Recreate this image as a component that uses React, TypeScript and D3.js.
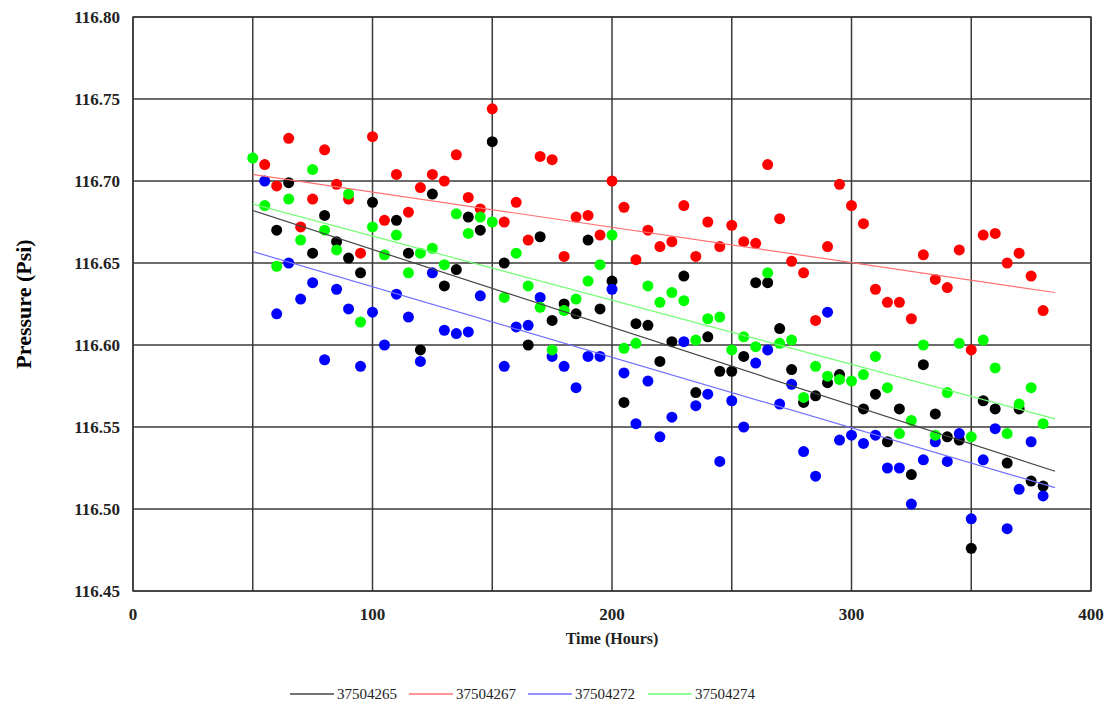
import * as d3 from 'd3';

// sample times (hours)
const hours = [50, 55, 60, 65, 70, 75, 80, 85, 90, 95, 100, 105, 110, 115, 120, 125, 130, 135, 140, 145,
  150, 155, 160, 165, 170, 175, 180, 185, 190, 195, 200, 205, 210, 215, 220, 225, 230, 235, 240, 245,
  250, 255, 260, 265, 270, 275, 280, 285, 290, 295, 300, 305, 310, 315, 320, 325, 330, 335, 340, 345,
  350, 355, 360, 365, 370, 375, 380];

const s37504265 = [null, null, 116.670, 116.699, null, 116.656, 116.679, 116.663, 116.653, 116.644,
  116.687, null, 116.676, 116.656, 116.597, 116.692, 116.636, 116.646, 116.678, 116.670,
  116.724, 116.650, null, 116.600, 116.666, 116.615, 116.625, 116.619, 116.664, 116.622,
  116.639, 116.565, 116.613, 116.612, 116.590, 116.602, 116.642, 116.571, 116.605, 116.584,
  116.584, 116.593, 116.638, 116.638, 116.610, 116.585, 116.565, 116.569, 116.577, 116.582,
  null, 116.561, 116.570, 116.541, 116.561, 116.521, 116.588, 116.558, 116.544, 116.542,
  116.476, 116.566, 116.561, 116.528, 116.561, 116.517, 116.514];

const s37504267 = [null, 116.710, 116.697, 116.726, 116.672, 116.689, 116.719, 116.698, 116.689, 116.656,
  116.727, 116.676, 116.704, 116.681, 116.696, 116.704, 116.700, 116.716, 116.690, 116.683,
  116.744, 116.675, 116.687, 116.664, 116.715, 116.713, 116.654, 116.678, 116.679, 116.667,
  116.700, 116.684, 116.652, 116.670, 116.660, 116.663, 116.685, 116.654, 116.675, 116.660,
  116.673, 116.663, 116.662, 116.710, 116.677, 116.651, 116.644, 116.615, 116.660, 116.698,
  116.685, 116.674, 116.634, 116.626, 116.626, 116.616, 116.655, 116.640, 116.635, 116.658,
  116.597, 116.667, 116.668, 116.650, 116.656, 116.642, 116.621];

const s37504272 = [null, 116.700, 116.619, 116.650, 116.628, 116.638, 116.591, 116.634, 116.622, 116.587,
  116.620, 116.600, 116.631, 116.617, 116.590, 116.644, 116.609, 116.607, 116.608, 116.630,
  null, 116.587, 116.611, 116.612, 116.629, 116.593, 116.587, 116.574, 116.593, 116.593,
  116.634, 116.583, 116.552, 116.578, 116.544, 116.556, 116.602, 116.563, 116.570, 116.529,
  116.566, 116.550, 116.589, 116.597, 116.564, 116.576, 116.535, 116.520, 116.620, 116.542,
  116.545, 116.540, 116.545, 116.525, 116.525, 116.503, 116.530, 116.541, 116.529, 116.546,
  116.494, 116.530, 116.549, 116.488, 116.512, 116.541, 116.508];

const s37504274 = [116.714, 116.685, 116.648, 116.689, 116.664, 116.707, 116.670, 116.658, 116.692, 116.614,
  116.672, 116.655, 116.667, 116.644, 116.656, 116.659, 116.649, 116.680, 116.668, 116.678,
  116.675, 116.629, 116.656, 116.636, 116.623, 116.597, 116.621, 116.628, 116.639, 116.649,
  116.667, 116.598, 116.601, 116.636, 116.626, 116.632, 116.627, 116.603, 116.616, 116.617,
  116.597, 116.605, 116.599, 116.644, 116.601, 116.603, 116.568, 116.587, 116.581, 116.579,
  116.578, 116.582, 116.593, 116.574, 116.546, 116.554, 116.600, 116.545, 116.571, 116.601,
  116.544, 116.603, 116.586, 116.546, 116.564, 116.574, 116.552];

// trend lines (linear fit): value at start hour and end hour
const trendHours = [50, 385];
const trendStart = [116.682, 116.704, 116.657, 116.686];
const trendEnd = [116.523, 116.632, 116.513, 116.555];

const seriesNames = ['37504265', '37504267', '37504272', '37504274'];
const seriesColors = ['#000000', '#ff0000', '#0000ff', '#00ff00'];
const trendColors = ['#444444', '#ff7070', '#7070ff', '#70ff70'];
const seriesValues = [s37504265, s37504267, s37504272, s37504274];

const xTicks = [0, 100, 200, 300, 400];
const yTicks = [116.45, 116.50, 116.55, 116.60, 116.65, 116.70, 116.75, 116.80];

const App = () => {
  const width = 1110, height = 707;
  const margin = { top: 17, right: 19, bottom: 116, left: 133 };
  const x = d3.scaleLinear().domain([0, 400]).range([margin.left, width - margin.right]);
  const y = d3.scaleLinear().domain([116.45, 116.80]).range([height - margin.bottom, margin.top]);
  const font = "'Liberation Serif', 'DejaVu Serif', serif";
  const xGrid = d3.range(0, 401, 50);

  const legendX = [290, 409, 528, 648];

  return (
    <svg width={width} height={height} style={{ position: 'absolute', left: 0, top: 0, background: '#fff', fontFamily: font }}>
      {/* grid */}
      {xGrid.map(v => (
        <line key={'gx' + v} x1={x(v)} x2={x(v)} y1={y(116.80)} y2={y(116.45)} stroke="#3a3a3a" strokeWidth={1.5} />
      ))}
      {yTicks.map(v => (
        <line key={'gy' + v} x1={x(0)} x2={x(400)} y1={y(v)} y2={y(v)} stroke="#3a3a3a" strokeWidth={1.5} />
      ))}
      <rect x={x(0)} y={y(116.80)} width={x(400) - x(0)} height={y(116.45) - y(116.80)} fill="none" stroke="#3a3a3a" strokeWidth={1.5} />

      {/* points */}
      {seriesValues.map((vals, si) => (
        <g key={'s' + si} fill={seriesColors[si]}>
          {vals.map((v, i) => v == null ? null : (
            <circle key={i} cx={x(hours[i])} cy={y(v)} r={5.5} />
          ))}
        </g>
      ))}

      {/* trend lines */}
      {seriesNames.map((n, si) => (
        <line key={'t' + n} x1={x(trendHours[0])} x2={x(trendHours[1])} y1={y(trendStart[si])} y2={y(trendEnd[si])}
          stroke={trendColors[si]} strokeWidth={1.2} />
      ))}

      {/* axis labels */}
      {yTicks.map(v => (
        <text key={'yl' + v} x={120} y={y(v)} dy="0.35em" textAnchor="end" style={{ fontFamily: font, fontWeight: 'bold', fontSize: 17 }} fill="#222">
          {v.toFixed(2)}
        </text>
      ))}
      {xTicks.map(v => (
        <text key={'xl' + v} x={x(v)} y={620} textAnchor="middle" style={{ fontFamily: font, fontWeight: 'bold', fontSize: 17 }} fill="#222">
          {v}
        </text>
      ))}
      <text x={(x(0) + x(400)) / 2} y={644} textAnchor="middle" style={{ fontFamily: font, fontWeight: 'bold', fontSize: 16 }} fill="#222">
        Time (Hours)
      </text>
      <text transform={`translate(31, ${y(116.625)}) rotate(-90)`} textAnchor="middle" style={{ fontFamily: font, fontWeight: 'bold', fontSize: 22 }} fill="#000">
        Pressure (Psi)
      </text>

      {/* legend */}
      {seriesNames.map((n, si) => (
        <g key={'lg' + n} transform={`translate(${legendX[si]}, 694)`}>
          <line x1={0} x2={44} y1={0} y2={0} stroke={trendColors[si]} strokeWidth={1.5} />
          <text x={47} y={0} dy="0.35em" style={{ fontFamily: font, fontSize: 15 }} fill="#222">{n}</text>
        </g>
      ))}
    </svg>
  );
};

export default App;
